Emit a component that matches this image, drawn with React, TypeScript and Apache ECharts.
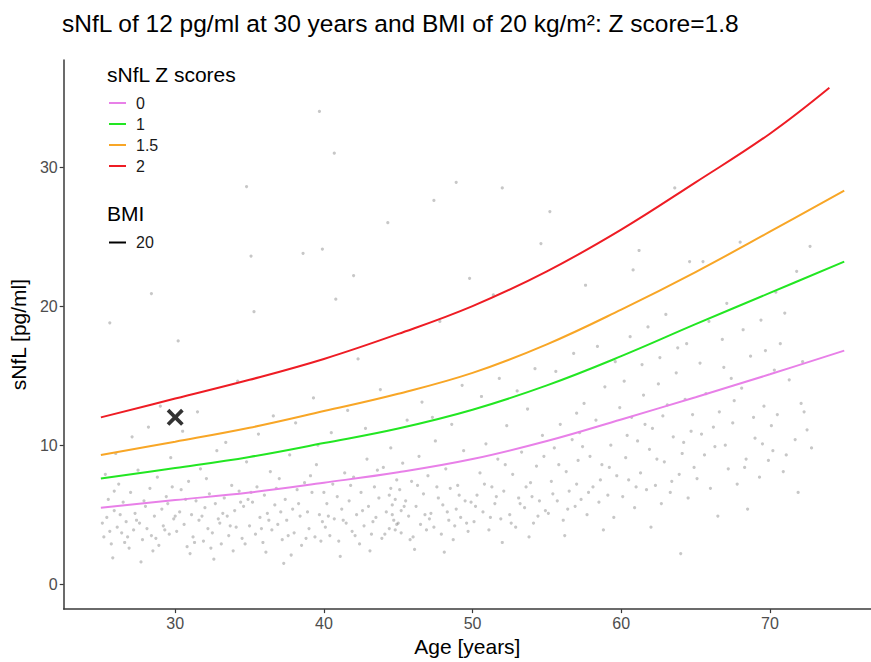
import React, { useEffect, useRef } from "react";
import * as echarts from "echarts";

const TITLE = "sNfL of 12 pg/ml at 30 years and BMI of 20 kg/m²: Z score=1.8";
const X_NAME = "Age [years]";
const Y_NAME = "sNfL [pg/ml]";
const LEGEND_TITLE = "sNfL Z scores";
const BMI_TITLE = "BMI";
const BMI_LABEL = "20";

const xTicks = [30, 40, 50, 60, 70];
const yTicks = [0, 10, 20, 30];

const ages = [25, 30, 35, 40, 45, 50, 55, 60, 65, 70, 75];
const redAges = [25, 30, 35, 40, 45, 50, 55, 60, 65, 70, 74];
const zLabels = ["0", "1", "1.5", "2"];
const z0 = [5.5, 6.05, 6.6, 7.3, 8.05, 9.0, 10.3, 11.85, 13.45, 15.1, 16.8];
const z1 = [7.6, 8.35, 9.15, 10.15, 11.2, 12.55, 14.3, 16.4, 18.7, 20.95, 23.2];
const z15 = [9.3, 10.25, 11.25, 12.45, 13.7, 15.2, 17.25, 19.75, 22.45, 25.35, 28.3];
const z2 = [12.0, 13.35, 14.7, 16.2, 18.0, 20.0, 22.5, 25.5, 28.9, 32.4, 35.7];

const subject = [30, 12];

// background cohort points [age, sNfL]
const cloud: number[][] = [
  [25.2,3.4],[25.4,4.8],[25.5,6.1],[25.7,2.9],[25.9,5.3],[26.1,4.1],[26.2,7.2],[26.4,3.7],[26.5,5.9],[26.7,4.5],
  [26.9,2.6],[27.0,6.6],[27.2,3.9],[27.3,5.1],[27.5,8.2],[27.6,4.4],[27.8,3.2],[28.0,5.6],[28.1,4.0],[28.3,6.9],
  [28.4,3.5],[28.6,4.9],[28.8,7.7],[28.9,2.8],[29.1,5.4],[29.2,4.2],[29.4,6.3],[29.6,3.6],[29.7,9.1],[29.9,4.7],
  [25.3,7.9],[26.0,9.4],[27.1,10.6],[28.2,11.3],[25.8,1.9],[27.7,1.6],[29.0,12.8],[26.6,3.0],[28.7,3.3],[29.5,5.8],
  [30.1,3.8],[30.3,5.2],[30.4,6.8],[30.6,4.3],[30.8,2.7],[30.9,7.4],[31.1,5.0],[31.2,3.4],[31.4,6.0],[31.6,4.6],
  [31.7,8.3],[31.9,3.1],[32.0,5.5],[32.2,4.0],[32.3,6.5],[32.5,3.7],[32.7,5.8],[32.8,9.6],[33.0,4.4],[33.1,2.9],
  [33.3,6.2],[33.5,4.9],[33.6,3.5],[33.8,7.1],[34.0,5.3],[34.1,4.1],[34.3,6.7],[34.5,3.3],[34.6,5.6],[34.8,8.8],
  [30.5,11.0],[31.5,12.4],[32.6,1.8],[33.4,10.2],[34.2,14.6],[31.0,2.2],[32.9,4.7],[34.9,6.1],[30.2,17.5],[33.9,2.4],
  [35.0,4.2],[35.2,5.9],[35.4,3.6],[35.5,7.0],[35.7,4.8],[35.9,3.0],[36.0,6.4],[36.2,5.1],[36.4,8.1],[36.5,3.9],
  [36.7,5.7],[36.9,4.3],[37.0,7.6],[37.2,3.2],[37.4,6.1],[37.5,4.6],[37.7,9.3],[37.9,5.4],[38.0,3.7],[38.2,6.8],
  [38.4,4.9],[38.5,2.8],[38.7,7.3],[38.9,5.2],[39.0,4.0],[39.2,6.6],[39.4,3.4],[39.5,8.6],[39.7,5.0],[39.9,4.5],
  [35.6,10.8],[36.6,12.1],[37.3,1.5],[38.1,11.6],[39.3,13.4],[36.1,2.3],[37.8,2.1],[39.6,10.0],[35.3,19.6],[38.6,23.8],
  [40.1,4.1],[40.2,5.8],[40.4,3.5],[40.6,7.2],[40.7,4.7],[40.9,6.3],[41.0,3.1],[41.2,5.4],[41.4,8.0],[41.5,4.4],
  [41.7,6.0],[41.9,3.8],[42.0,7.7],[42.2,5.0],[42.4,2.9],[42.5,6.6],[42.7,4.2],[42.9,9.0],[43.0,5.6],[43.2,3.6],
  [43.4,7.0],[43.5,4.8],[43.7,6.2],[43.9,3.3],[44.0,8.4],[44.2,5.2],[44.4,4.0],[44.5,6.9],[44.6,5.7],[44.8,3.9],
  [44.9,7.5],[44.7,4.6],[44.5,9.8],[44.8,6.1],[40.5,10.9],[41.6,12.5],[42.8,11.2],[43.8,14.0],[41.1,2.0],[43.1,2.4],
  [42.3,16.2],[40.8,20.5],[44.3,26.0],
  [45.0,4.4],[45.1,6.8],[45.2,5.3],[45.3,8.7],[45.2,3.7],[45.5,6.0],[45.7,4.9],[45.9,7.4],[46.0,3.4],[46.2,5.6],
  [46.4,9.2],[46.5,4.3],[46.7,6.5],[46.9,3.9],[47.0,7.8],[47.2,5.1],[47.4,4.1],[47.5,10.3],[47.7,6.2],[47.9,3.6],
  [48.0,5.7],[48.2,8.3],[48.4,4.6],[48.5,6.9],[48.7,3.2],[48.9,5.4],[49.0,7.1],[49.2,4.8],[49.4,9.6],[49.5,6.0],
  [49.7,3.8],[49.9,5.9],[45.6,11.8],[46.6,13.1],[47.3,12.0],[48.6,11.5],[49.3,14.3],[46.1,2.5],[48.1,2.3],[47.8,18.9],
  [49.8,22.0],
  [50.1,4.5],[50.3,6.4],[50.5,8.0],[50.7,5.2],[50.9,10.1],[51.1,3.9],[51.3,7.0],[51.5,5.8],[51.7,9.0],[51.9,4.7],
  [52.1,6.7],[52.3,11.4],[52.5,5.0],[52.7,7.9],[52.9,4.1],[53.1,6.2],[53.3,9.5],[53.5,5.5],[53.7,12.6],[53.9,7.3],
  [54.1,4.4],[54.3,8.5],[54.5,6.0],[54.7,10.7],[54.9,5.3],[50.6,13.5],[51.8,14.8],[53.0,13.9],[54.2,15.5],[52.0,3.0],
  [53.8,3.4],[51.4,20.8],[54.6,24.5],
  [55.1,5.1],[55.3,7.4],[55.5,9.8],[55.7,6.0],[55.9,11.5],[56.1,4.6],[56.3,8.1],[56.5,6.7],[56.7,10.4],[56.9,5.6],
  [57.0,12.3],[57.1,8.9],[57.0,7.2],[57.2,10.9],[57.3,6.1],[57.5,13.0],[57.7,5.0],[57.9,9.2],[58.1,7.0],[58.3,11.8],
  [58.5,5.9],[58.7,8.6],[58.9,14.2],[59.1,6.4],[59.3,10.0],[59.5,4.8],[59.7,7.8],[59.9,12.7],[55.6,15.3],[56.8,16.6],
  [58.4,17.1],[59.6,16.0],[56.2,3.5],[58.8,3.9],[57.6,21.5],[55.2,26.8],
  [60.1,6.3],[60.3,9.1],[60.5,7.5],[60.7,12.0],[60.9,5.5],[61.1,10.3],[61.3,8.0],[61.5,13.6],[61.7,6.8],[61.9,9.7],
  [62.1,11.2],[62.3,7.1],[62.5,14.4],[62.7,5.8],[62.9,8.8],[63.1,12.9],[63.3,6.6],[63.5,10.6],[63.7,15.2],[63.9,7.9],
  [64.1,9.4],[64.3,13.3],[64.5,6.2],[64.7,11.0],[64.9,8.4],[60.6,17.8],[61.8,18.5],[63.0,19.4],[64.4,17.3],[62.0,4.1],
  [64.0,2.2],[61.2,24.0],[63.6,28.5],
  [65.1,7.6],[65.4,10.8],[65.7,13.7],[66.0,6.9],[66.3,9.9],[66.6,12.4],[66.9,15.6],[67.2,8.3],[67.5,11.6],[67.8,7.2],
  [68.1,14.1],[68.4,9.0],[68.7,16.4],[69.0,10.5],[69.3,7.7],[69.6,12.8],[69.9,8.9],[65.9,18.9],[67.1,20.2],[68.5,5.4],
  [66.5,4.9],[69.4,19.0],[65.5,23.2],
  [70.2,9.6],[70.5,12.2],[70.9,8.1],[71.3,14.7],[71.7,10.4],[72.1,13.0],[72.5,11.1],[70.7,17.3],[71.9,6.6],[70.4,21.0],
  [72.8,9.8],
  [39.7,34.0],[40.7,31.0],[34.8,28.6],[48.9,28.9],[52.0,28.5],[47.4,27.6],[39.9,24.1],[35.1,23.6],[28.4,20.9],[25.6,18.8],
  [42.0,22.2],[60.8,22.6],[72.7,24.3],[68.0,24.6],[64.6,23.2],[71.8,22.5],
  [25.1,4.4],[25.6,3.8],[25.9,6.7],[26.3,5.0],[26.8,3.4],[27.4,4.6],[27.9,6.0],[28.5,2.4],[29.3,3.9],[29.8,7.0],
  [30.0,4.9],[30.7,6.1],[31.3,3.0],[31.8,4.9],[32.1,7.6],[32.4,2.6],[33.2,5.1],[33.7,4.2],[34.4,5.9],[34.7,2.9],
  [35.1,6.6],[35.8,4.0],[36.3,4.6],[36.8,6.9],[37.1,5.2],[37.6,3.5],[38.3,5.8],[38.8,3.3],[39.1,7.8],[39.8,3.1],
  [40.0,6.6],[40.3,4.9],[41.3,4.6],[41.8,7.1],[42.1,3.5],[42.6,5.3],[43.3,4.5],[43.6,8.2],[44.1,3.6],[44.4,6.4],
  [44.6,5.0],[44.9,4.3],[45.4,5.6],[45.8,3.2],[46.3,7.1],[46.8,5.0],[47.1,4.7],[47.6,7.0],[48.3,5.2],[48.8,4.2],
  [49.1,6.4],[49.6,4.4],[50.2,5.6],[50.8,7.2],[51.2,4.8],[51.6,6.3],[52.2,8.6],[52.6,4.4],[53.2,5.8],[53.6,7.0],
  [54.0,6.3],[54.4,4.9],[54.8,9.2],[55.4,6.5],[55.8,8.6],[56.4,5.4],[57.4,9.9],[57.8,6.6],[58.6,7.5],[59.2,8.4],
  [60.4,10.7],[61.0,7.0],[61.6,11.5],[62.4,9.0],[62.8,12.1],[63.4,7.4],[64.2,10.2],[64.8,12.2],[65.6,9.3],[66.2,11.3],
  [67.0,10.0],[67.6,13.2],[68.3,8.4],[68.9,12.0],[69.5,10.1],[70.1,11.4],[71.1,9.3],[72.3,12.4],
  [60.2,14.6],[61.4,15.8],[62.6,16.3],[63.8,17.0],[65.3,15.9],[66.8,17.6],[68.2,18.3],[69.7,16.8],[71.0,19.5],[72.2,16.0],
  [70.3,15.4],[67.4,14.8],
];

const FONT = "'Liberation Sans', Arial, Helvetica, sans-serif";
const zColors = ["#e880e8", "#22e622", "#f8a626", "#ee1c24"];
const AXIS_COLOR = "#3a3a3a";

export default function App() {
  const ref = useRef<HTMLDivElement>(null);

  useEffect(() => {
    if (!ref.current) return;
    const chart = echarts.init(ref.current, undefined, { renderer: "svg" });
    const zSeriesData = [z0, z1, z15, z2];

    const lineSeries = zLabels.map((name, i) => {
      const xs = i === 3 ? redAges : ages;
      return {
        name,
        type: "line",
        data: xs.map((a, k) => [a, zSeriesData[i][k]]),
        showSymbol: false,
        smooth: 0.4,
        lineStyle: { color: zColors[i], width: 2 },
        itemStyle: { color: zColors[i] },
        z: 3,
      };
    });

    const crossPath =
      "path://M2.5,0 L8,5.5 L13.5,0 L16,2.5 L10.5,8 L16,13.5 L13.5,16 L8,10.5 L2.5,16 L0,13.5 L5.5,8 L0,2.5 Z";

    chart.setOption({
      animation: false,
      backgroundColor: "#ffffff",
      title: {
        text: TITLE,
        left: 57,
        top: 6,
        textStyle: { fontFamily: FONT, fontSize: 24.5, fontWeight: "normal", color: "#000" },
      },
      grid: { left: 60, top: 60, right: 0, bottom: 49, containLabel: false },
      xAxis: {
        type: "value",
        min: 22.5,
        max: 76.8,
        name: X_NAME,
        nameLocation: "middle",
        nameGap: 25,
        nameTextStyle: { fontFamily: FONT, fontSize: 21, color: "#000" },
        axisLine: { show: true, onZero: false, lineStyle: { color: AXIS_COLOR, width: 1.5 } },
        axisTick: { show: true, length: 4, customValues: xTicks, lineStyle: { color: AXIS_COLOR, width: 1.2 } },
        axisLabel: { customValues: xTicks, fontFamily: FONT, fontSize: 16, color: "#4d4d4d", margin: 6 },
        splitLine: { show: false },
      },
      yAxis: {
        type: "value",
        min: -1.79,
        max: 37.7,
        name: Y_NAME,
        nameLocation: "middle",
        nameGap: 28,
        nameRotate: 90,
        nameTextStyle: { fontFamily: FONT, fontSize: 21, color: "#000" },
        axisLine: { show: true, onZero: false, lineStyle: { color: AXIS_COLOR, width: 1.5 } },
        axisTick: { show: true, length: 4, customValues: yTicks, lineStyle: { color: AXIS_COLOR, width: 1.2 } },
        axisLabel: { customValues: yTicks, fontFamily: FONT, fontSize: 16, color: "#4d4d4d", margin: 6 },
        splitLine: { show: false },
      },
      legend: {
        data: zLabels,
        orient: "vertical",
        left: 109,
        top: 95,
        padding: 0,
        itemWidth: 17,
        itemHeight: 2,
        itemGap: 5,
        icon: "rect",
        selectedMode: false,
        textStyle: { fontFamily: FONT, fontSize: 16, color: "#1a1a1a", padding: [0, 0, 0, 5] },
      },
      graphic: [
        {
          type: "text",
          left: 107,
          top: 64,
          style: { text: LEGEND_TITLE, fontFamily: FONT, fontSize: 21, fill: "#000" },
        },
        {
          type: "text",
          left: 107,
          top: 203,
          style: { text: BMI_TITLE, fontFamily: FONT, fontSize: 21, fill: "#000" },
        },
        {
          type: "line",
          shape: { x1: 109, y1: 242.5, x2: 126, y2: 242.5 },
          style: { stroke: "#000", lineWidth: 2 },
        },
        {
          type: "text",
          left: 136,
          top: 234,
          style: { text: BMI_LABEL, fontFamily: FONT, fontSize: 16, fill: "#1a1a1a" },
        },
      ],
      series: [
        {
          name: "cohort",
          type: "scatter",
          data: cloud,
          symbolSize: 3.2,
          itemStyle: { color: "rgba(80,80,80,0.4)" },
          z: 1,
          silent: true,
        },
        ...lineSeries,
        {
          name: "subject",
          type: "scatter",
          data: [subject],
          symbol: crossPath,
          symbolSize: 17,
          itemStyle: { color: "#000" },
          z: 5,
        },
      ],
    });

    return () => chart.dispose();
  }, []);

  return (
    <div
      ref={ref}
      style={{ position: "fixed", left: 0, top: 0, width: 871, height: 662, background: "#fff" }}
    />
  );
}
